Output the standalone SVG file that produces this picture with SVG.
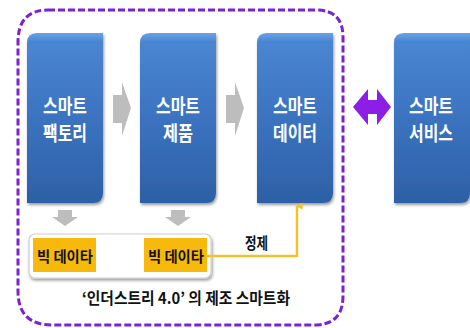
<svg xmlns="http://www.w3.org/2000/svg" width="470" height="328" viewBox="0 0 470 328">
<defs>
<linearGradient id="blue" x1="0" y1="0" x2="0" y2="1">
<stop offset="0" stop-color="#6aa3e6"/>
<stop offset="0.05" stop-color="#4a86d2"/>
<stop offset="0.5" stop-color="#3b73c0"/>
<stop offset="1" stop-color="#2d60a5"/>
</linearGradient>
<filter id="sh" x="-10%" y="-10%" width="130%" height="130%">
<feGaussianBlur in="SourceAlpha" stdDeviation="1.5"/>
<feOffset dx="1" dy="2"/>
<feComponentTransfer><feFuncA type="linear" slope="0.4"/></feComponentTransfer>
<feMerge><feMergeNode/><feMergeNode in="SourceGraphic"/></feMerge>
</filter>
<path id="boxshape" d="M0,10 Q0,0 10,0 H76 V160 Q76,170 66,170 H0 Z"/>
<polygon id="garrow" points="0,15 9,15 9,2 18,28 9,56 9,43 0,43" transform="translate(0,-2)"/>
<marker id="ya" viewBox="0 0 10 10" refX="5" refY="2" markerWidth="7" markerHeight="7" orient="auto-start-reverse" markerUnits="userSpaceOnUse">
<path d="M0,10 L5,0 L10,10 Z" fill="#f2c12e"/>
</marker>
<style>
.box{fill:url(#blue);filter:url(#sh)}
.bt{font-family:"Noto Sans CJK KR","Noto Sans",sans-serif;font-weight:bold;font-size:20px;fill:#fff;text-anchor:middle}
.gray{fill:#bdbdbd}
.lbl{fill:#f6b90c}
.lt{font-family:"Noto Sans CJK KR","Noto Sans",sans-serif;font-weight:bold;font-size:15px;fill:#111}
.cap{font-family:"Noto Sans CJK KR","Noto Sans",sans-serif;font-weight:bold;font-size:16px;fill:#111}
</style>
</defs>
<rect width="470" height="328" fill="#fff"/>

<g id="frame">
<path d="M48,10 H316 Q343,10 343,37 V296 Q343,325 314,325 H52 Q18,325 18,291 V42 Q18,10 48,10 Z" fill="none" stroke="#7a22d4" stroke-width="3" stroke-dasharray="7,3"/>
</g>

<g id="node-factory">
<use href="#boxshape" class="box" transform="translate(27,33)"/>
<text class="bt" x="65" y="114" textLength="44" lengthAdjust="spacingAndGlyphs">스마트</text>
<text class="bt" x="65" y="141" textLength="44" lengthAdjust="spacingAndGlyphs">팩토리</text>
</g>
<g id="node-product">
<use href="#boxshape" class="box" transform="translate(140,33)"/>
<text class="bt" x="178" y="114" textLength="44" lengthAdjust="spacingAndGlyphs">스마트</text>
<text class="bt" x="178" y="141" textLength="30" lengthAdjust="spacingAndGlyphs">제품</text>
</g>
<g id="node-data">
<use href="#boxshape" class="box" transform="translate(257,33)"/>
<text class="bt" x="295" y="114" textLength="44" lengthAdjust="spacingAndGlyphs">스마트</text>
<text class="bt" x="295" y="141" textLength="44" lengthAdjust="spacingAndGlyphs">데이터</text>
</g>
<g id="node-service">
<use href="#boxshape" class="box" transform="translate(394,33)"/>
<text class="bt" x="431" y="114" textLength="44" lengthAdjust="spacingAndGlyphs">스마트</text>
<text class="bt" x="431" y="141" textLength="44" lengthAdjust="spacingAndGlyphs">서비스</text>
</g>

<g id="bigdata-panel">
<rect x="29" y="234" width="182" height="44" rx="6" fill="#fff" stroke="#cfcfcf" stroke-width="1.2" filter="url(#sh)"/>
</g>
<g id="node-bigdata1">
<rect class="lbl" x="33" y="238" width="63" height="34"/>
<text class="lt" x="37" y="262" textLength="56" lengthAdjust="spacingAndGlyphs">빅 데이타</text>
</g>
<g id="node-bigdata2">
<rect class="lbl" x="144" y="238" width="63" height="34"/>
<text class="lt" x="148" y="262" textLength="56" lengthAdjust="spacingAndGlyphs">빅 데이타</text>
</g>

<g id="connectors">
<use href="#garrow" class="gray" transform="translate(113,82)"/>
<use href="#garrow" class="gray" transform="translate(226,82)"/>
<polygon class="gray" points="58,210 72,210 72,217 78,217 65,226 52,217 58,217"/>
<polygon class="gray" points="171,210 185,210 185,217 191,217 178,226 165,217 171,217"/>
<polygon fill="#8c1ee6" points="353,107 368,89 368,100 377,100 377,89 391,107 377,125 377,114 368,114 368,125"/>
<polyline points="207,256 297,256 297,206" fill="none" stroke="#f2c12e" stroke-width="2.5" marker-end="url(#ya)"/>
<text class="cap" x="245" y="249" textLength="23" lengthAdjust="spacingAndGlyphs">정제</text>
</g>

<g id="caption">
<text class="cap" x="82" y="304" textLength="208" lengthAdjust="spacingAndGlyphs">‘인더스트리 4.0’ 의 제조 스마트화</text>
</g>
</svg>
